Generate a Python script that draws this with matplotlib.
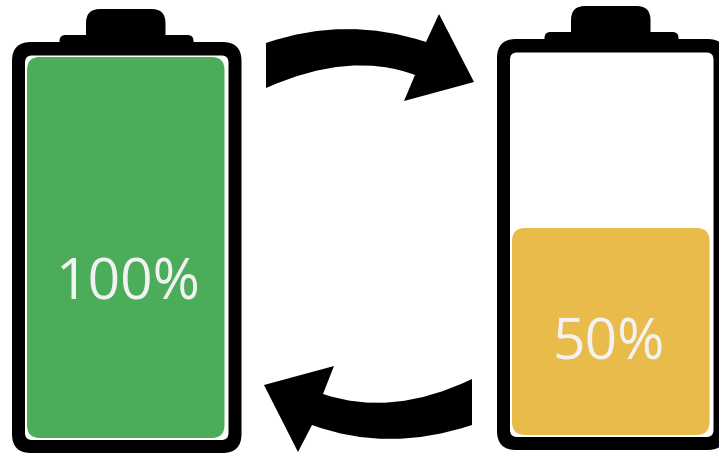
import matplotlib
matplotlib.use("Agg")
import matplotlib.pyplot as plt
from matplotlib.patches import FancyBboxPatch, PathPatch
from matplotlib.path import Path

labels = ["100%", "50%"]
fill_colors = ["#4bac5a", "#e9bb4a"]
fill_heights = [381, 207]
battery_x = [12, 497]
battery_y = [42, 39]
text_x = [128, 608.5]
text_base = [300, 360]

W, H = 719, 453
fig = plt.figure(figsize=(W / 100, H / 100), dpi=100)
ax = fig.add_axes([0, 0, 1, 1])
ax.set_xlim(0, W)
ax.set_ylim(H, 0)
ax.axis("off")


def rrect(x0, y0, x1, y1, r, color, z):
    p = FancyBboxPatch((x0, y0), x1 - x0, y1 - y0,
                       boxstyle=f"round,pad=0,rounding_size={r}",
                       fc=color, ec="none", zorder=z)
    ax.add_patch(p)


for lab, col, h, bx, by, tx, tb in zip(labels, fill_colors, fill_heights,
                                       battery_x, battery_y, text_x, text_base):
    # cap and shoulder
    rrect(bx + 74, by - 33, bx + 153.5, by + 10, 14, "black", 1)
    rrect(bx + 47.5, by - 7, bx + 181.5, by + 10, 6, "black", 1)
    # shell
    rrect(bx, by, bx + 229.5, by + 411, 19, "black", 2)
    rrect(bx + 13, by + 13.5, bx + 216.5, by + 398, 7, "white", 3)
    # charge level
    bottom = by + 396
    rrect(bx + 15, bottom - h, bx + 212.5, bottom, 13, col, 4)
    ax.text(tx, tb, lab, color="#f2f2f2", fontsize=41, family="Open Sans",
            fontweight="normal", ha="center", va="baseline", zorder=5)


def arrow(pts):
    codes = [Path.MOVETO, Path.CURVE3, Path.CURVE3, Path.LINETO, Path.LINETO,
             Path.LINETO, Path.LINETO, Path.CURVE3, Path.CURVE3, Path.CLOSEPOLY]
    ax.add_patch(PathPatch(Path(pts, codes), fc="black", ec="none", zorder=6))


arrow([(266, 43), (346, 15.5), (426, 42), (439, 14), (474, 82), (404, 101),
       (415, 75), (350, 50.5), (266, 88), (266, 43)])
arrow([(472, 379), (392, 417.5), (323, 394), (334, 366), (264, 385), (298, 452),
       (312, 425), (388, 453), (472, 425), (472, 379)])

fig.savefig("out.png", dpi=100)
